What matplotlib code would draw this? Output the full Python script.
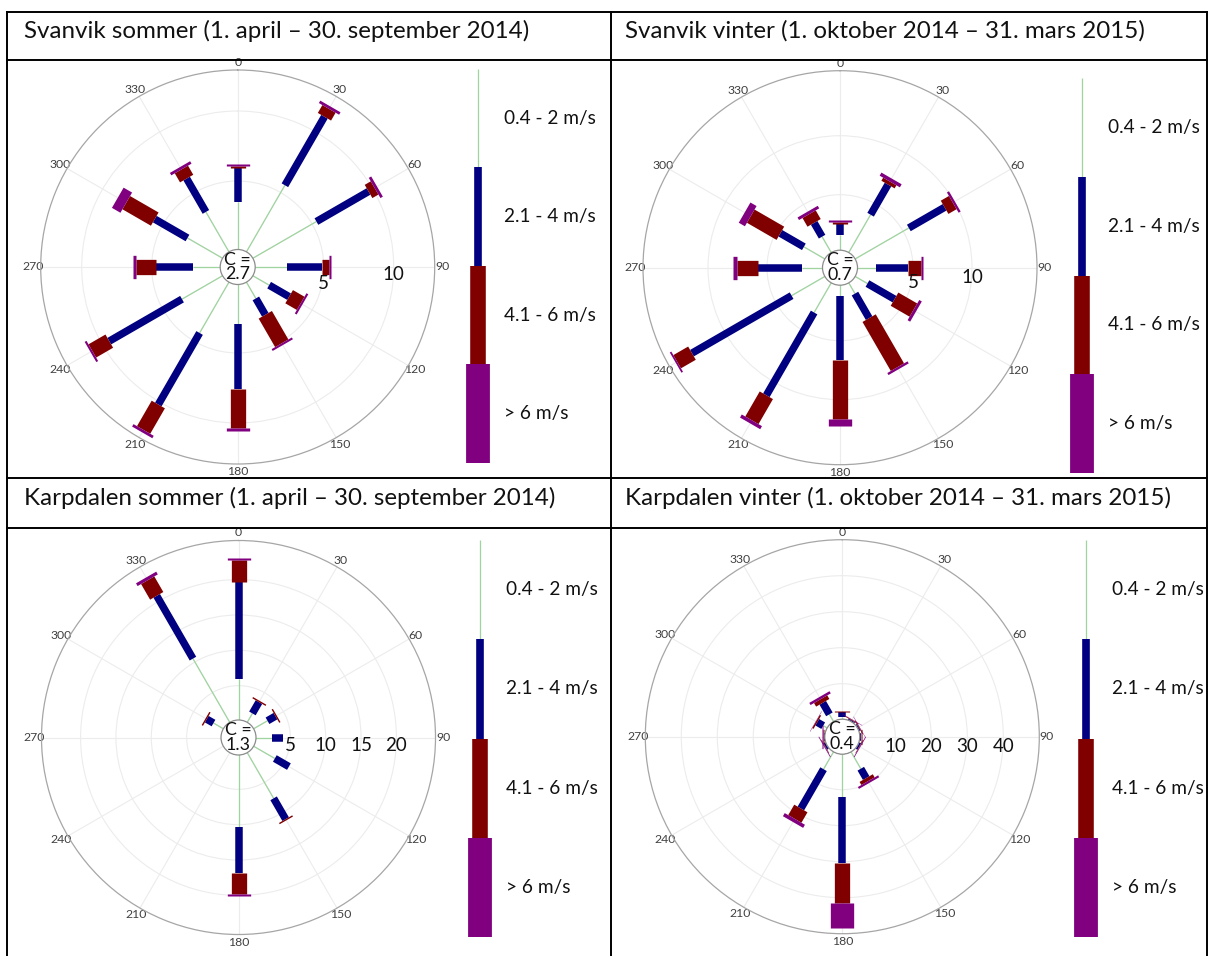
import numpy as np
import matplotlib
matplotlib.use('Agg')
import matplotlib.pyplot as plt
import matplotlib.transforms as mtransforms
from matplotlib.patches import Circle
from matplotlib.lines import Line2D

plt.rcParams['font.family'] = ['Lato', 'DejaVu Sans']

directions = np.arange(0, 360, 30)
classes = ['0.4 - 2 m/s', '2.1 - 4 m/s', '4.1 - 6 m/s', '> 6 m/s']
titles = ['Svanvik sommer (1. april – 30. september 2014)',
          'Svanvik vinter (1. oktober 2014 – 31. mars 2015)',
          'Karpdalen sommer (1. april – 30. september 2014)',
          'Karpdalen vinter (1. oktober 2014 – 31. mars 2015)']
calm = [2.7, 0.7, 1.3, 0.4]

# frequency (%) per direction (0, 30, ... 330) and speed class
sv_sommer_c1 = [3.5, 5.6, 5.35, 2.35, 1.45, 1.45, 2.95, 4.3, 3.45, 2.05, 3.0, 3.4]
sv_sommer_c2 = [2.4, 5.65, 4.3, 2.5, 1.65, 1.35, 4.65, 5.9, 6.0, 2.65, 2.7, 2.75]
sv_sommer_c3 = [0.15, 0.65, 0.5, 0.55, 0.95, 2.35, 2.75, 2.1, 1.4, 1.4, 2.35, 0.75]
sv_sommer_c4 = [0.15, 0.2, 0.2, 0.1, 0.15, 0.15, 0.25, 0.2, 0.15, 0.25, 0.7, 0.2]

sv_vinter_c1 = [1.6, 4.0, 5.55, 1.9, 1.5, 1.35, 1.2, 3.2, 3.55, 2.0, 2.35, 1.85]
sv_vinter_c2 = [0.95, 2.95, 3.5, 2.7, 2.65, 2.4, 5.4, 8.1, 9.75, 3.75, 2.3, 1.35]
sv_vinter_c3 = [0.15, 0.3, 0.8, 1.1, 1.85, 4.8, 5.0, 2.45, 1.45, 1.8, 2.9, 0.85]
sv_vinter_c4 = [0.15, 0.3, 0.2, 0.15, 0.25, 0.2, 0.6, 0.3, 0.15, 0.3, 0.6, 0.25]

ka_sommer_c1 = [5.9, 1.6, 2.4, 2.4, 3.6, 7.6, 10.3, 0, 0, 0, 1.75, 10.55]
ka_sommer_c2 = [13.7, 1.85, 1.3, 1.5, 2.3, 3.4, 6.6, 0, 0, 0, 1.1, 10.25]
ka_sommer_c3 = [3.15, 0.2, 0.2, 0, 0, 0.2, 2.9, 0, 0, 0, 0.2, 2.55]
ka_sommer_c4 = [0.3, 0, 0, 0, 0, 0, 0.3, 0, 0, 0, 0, 0.45]

ka_vinter_c1 = [0.85, 0.2, 0.2, 0.2, 0.2, 5.55, 11.95, 5.7, 0.2, 0.2, 1.4, 2.45]
ka_vinter_c2 = [1.2, 0.3, 0.3, 0.3, 0.5, 3.0, 18.5, 12.6, 0.5, 0.3, 1.9, 3.7]
ka_vinter_c3 = [0.25, 0.2, 0.2, 0.15, 0.15, 1.0, 11.1, 3.35, 0.15, 0.15, 0.4, 1.15]
ka_vinter_c4 = [0.15, 0.1, 0.1, 0.2, 0.2, 0.6, 6.95, 1.0, 0.2, 0.2, 0.1, 0.7]

roses = [
    [sv_sommer_c1, sv_sommer_c2, sv_sommer_c3, sv_sommer_c4],
    [sv_vinter_c1, sv_vinter_c2, sv_vinter_c3, sv_vinter_c4],
    [ka_sommer_c1, ka_sommer_c2, ka_sommer_c3, ka_sommer_c4],
    [ka_vinter_c1, ka_vinter_c2, ka_vinter_c3, ka_vinter_c4],
]
rticks = [[5, 10], [5, 10], [5, 10, 15, 20], [10, 20, 30, 40]]
rmax = [12.93, 15.51, 25.53, 50.0]
hole = [1.143, 1.186, 2.334, 4.722]

colors = ['#9fd49f', '#000080', '#800000', '#800080']
widths = [0.9, 5.4, 11.0, 16.8]

W, H = 1208, 956
fig = plt.figure(figsize=(W / 100, H / 100), dpi=100)


def fx(x):
    return x / W


def fy(y):
    return 1 - y / H


# table frame
def hline(y, x0=7.5, x1=1207):
    fig.add_artist(Line2D([fx(x0), fx(x1)], [fy(y), fy(y)], color='black', lw=1.4))


def vline(x, y0=12, y1=956):
    fig.add_artist(Line2D([fx(x), fx(x)], [fy(y0), fy(y1)], color='black', lw=1.4))


for y in [12, 60, 478, 528]:
    hline(y)
for x in [7.5, 610.5, 1207]:
    vline(x)

title_pos = [(24, 37.5), (625, 37.5), (24, 505), (625, 505)]
for (tx, ty), t in zip(title_pos, titles):
    fig.text(fx(tx), fy(ty), t, ha='left', va='baseline', fontsize=17.4, color='#111111')

centers = [(237.7, 267.0), (840.0, 267.7), (238.5, 737.5), (842.3, 736.7)]
R = 197
rlab_off = [[17, 8], [15, 10], [8, 8, 8, 8], [10, 10, 10, 10]]
legend_x = [478.5, 1081.5, 480, 1086]
legend_y = [(69, 463), (78, 473), (540, 937), (540, 937)]

for k in range(4):
    cx, cy = centers[k]
    ax = fig.add_axes([fx(cx - R), fy(cy + R), 2 * R / W, 2 * R / H], projection='polar')
    ax.set_theta_zero_location('N')
    ax.set_theta_direction(-1)
    ax.set_rorigin(-hole[k])
    ax.set_ylim(0, rmax[k])
    ax.set_yticks(rticks[k])
    ax.set_yticklabels([])
    ax.set_xticks(np.deg2rad(directions))
    ax.set_xticklabels([str(d) for d in directions], fontsize=8.8, color='#404040')
    ax.tick_params(axis='x', pad=-1.5, length=0)
    ax.tick_params(axis='y', length=0)
    ax.grid(color='#ececec', lw=0.8)
    ax.spines['polar'].set_color('#a6a6a6')
    ax.spines['polar'].set_linewidth(0.9)
    ax.spines['inner'].set_visible(False)
    ax.set_facecolor('none')

    vals = np.array(roses[k], dtype=float)
    cum = np.vstack([np.zeros(len(directions)), np.cumsum(vals, axis=0)])
    theta = np.deg2rad(directions)
    for i in range(4):
        for j in range(len(directions)):
            if vals[i, j] > 0:
                ax.plot([theta[j], theta[j]], [cum[i, j], cum[i + 1, j]], color=colors[i],
                        lw=widths[i], solid_capstyle='butt', zorder=3 + i)

    ax.add_patch(Circle((0.5, 0.5), 17.5 / (2 * R), transform=ax.transAxes, facecolor='white',
                        edgecolor='#8c8c8c', lw=0.9, zorder=10, clip_on=False))
    ax.text(0.5, 0.5, 'C =\n%.1f' % calm[k], transform=ax.transAxes, ha='center', va='center',
            fontsize=12.8, linespacing=0.92, zorder=11, color='#111111')

    for t, off in zip(rticks[k], rlab_off[k]):
        tr = mtransforms.offset_copy(ax.transData, fig=fig, x=0, y=-off * 0.72, units='points')
        ax.text(np.pi / 2, t, str(t), transform=tr, ha='center', va='center', fontsize=13.5,
                color='#111111', zorder=12)

    # legend column
    lx = legend_x[k]
    ltop, lbot = legend_y[k]
    lax = fig.add_axes([fx(lx - 15), fy(lbot), 150 / W, (lbot - ltop) / H])
    lax.set_xlim(-15, 135)
    lax.set_ylim(0, 4)
    lax.axis('off')
    for i in range(4):
        lax.plot([0, 0], [3 - i, 4 - i], color=colors[i], lw=widths[i] * 1.02,
                 solid_capstyle='butt')
        lax.text(26, 3.5 - i, classes[i], ha='left', va='center', fontsize=13.7, color='#111111')

fig.savefig('out.png', dpi=100)
